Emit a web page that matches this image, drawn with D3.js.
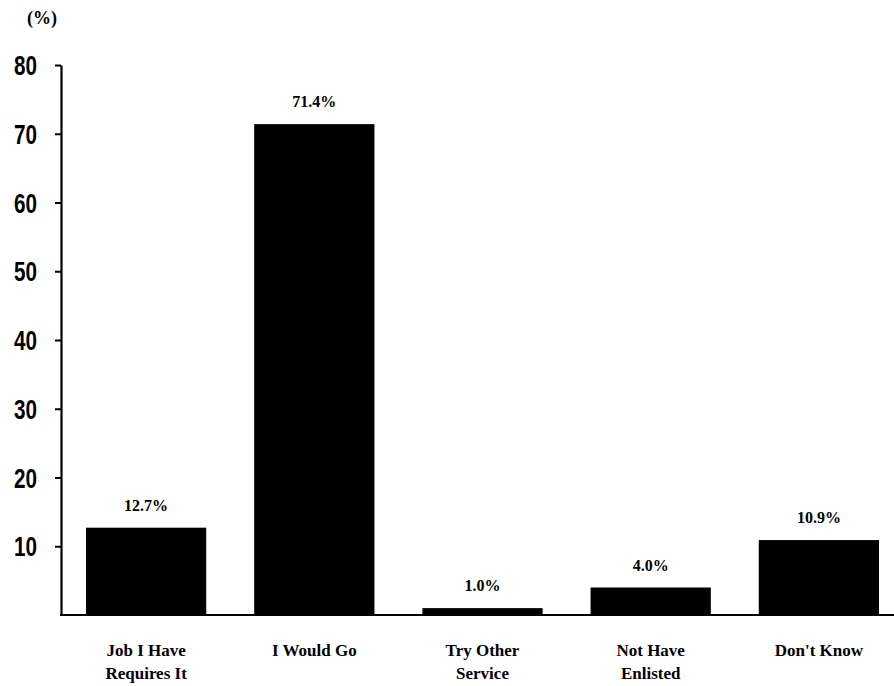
<!DOCTYPE html>
<html>
<head>
<meta charset="utf-8">
<script src="https://cdn.jsdelivr.net/npm/d3@7"></script>
<style>
  html, body { margin: 0; padding: 0; background: #fff; }
  svg { display: block; }
</style>
</head>
<body>
<script>
// Survey responses (percent of respondents)
const categories = [
  ["Job I Have", "Requires It"],
  ["I Would Go"],
  ["Try Other", "Service"],
  ["Not Have", "Enlisted"],
  ["Don't Know"]
];
const values = [12.7, 71.4, 1.0, 4.0, 10.9];
const valueLabels = ["12.7%", "71.4%", "1.0%", "4.0%", "10.9%"];
const yTicks = [10, 20, 30, 40, 50, 60, 70, 80];
const yUnit = "(%)";

const W = 894, H = 686;
const svg = d3.select("body").append("svg")
  .attr("width", W).attr("height", H);

const axisX = 61, baseY = 615, topY = 65;

const y = d3.scaleLinear().domain([0, 80]).range([baseY, topY]);
const x = d3.scaleBand()
  .domain(d3.range(values.length))
  .range([axisX, 904])
  .paddingInner(0.285)
  .paddingOuter(0.1486);

const serif = "'Liberation Serif', 'Times New Roman', serif";
const sans = "'Liberation Sans', Arial, sans-serif";

// Bars
svg.append("g").selectAll("rect")
  .data(values)
  .join("rect")
  .attr("x", (d, i) => x(i))
  .attr("y", d => y(d))
  .attr("width", x.bandwidth())
  .attr("height", d => baseY - y(d))
  .attr("fill", "#000");

// Value labels above bars
svg.append("g").selectAll("text")
  .data(values)
  .join("text")
  .attr("x", (d, i) => x(i) + x.bandwidth() / 2)
  .attr("y", d => y(d) - 17)
  .attr("text-anchor", "middle")
  .attr("font-family", serif)
  .attr("font-weight", "bold")
  .attr("font-size", 16)
  .attr("fill", "#000")
  .text((d, i) => valueLabels[i]);

// Y axis
const yAxis = svg.append("g")
  .attr("transform", `translate(${axisX},0)`)
  .call(d3.axisLeft(y).tickValues(yTicks).tickSize(6).tickSizeOuter(0).tickPadding(18));
yAxis.select(".domain").attr("stroke", "#000").attr("stroke-width", 2.2);
yAxis.selectAll(".tick line").attr("stroke", "#000").attr("stroke-width", 2);
yAxis.selectAll(".tick text")
  .attr("font-family", sans)
  .attr("font-weight", "bold")
  .attr("font-size", 27)
  .attr("fill", "#000")
  .attr("dy", "0.36em")
  .attr("textLength", 23)
  .attr("lengthAdjust", "spacingAndGlyphs");

// Baseline
svg.append("line")
  .attr("x1", axisX - 1).attr("x2", W)
  .attr("y1", y(0)).attr("y2", y(0))
  .attr("stroke", "#000").attr("stroke-width", 2.2);

// Unit label
svg.append("text")
  .attr("x", 42).attr("y", 24)
  .attr("text-anchor", "middle")
  .attr("font-family", serif)
  .attr("font-weight", "bold")
  .attr("font-size", 18)
  .attr("fill", "#000")
  .text(yUnit);

// Category labels
const cat = svg.append("g").selectAll("text")
  .data(categories)
  .join("text")
  .attr("x", (d, i) => x(i) + x.bandwidth() / 2)
  .attr("y", 656)
  .attr("text-anchor", "middle")
  .attr("font-family", serif)
  .attr("font-weight", "bold")
  .attr("font-size", 17)
  .attr("fill", "#000");
cat.selectAll("tspan")
  .data(d => d)
  .join("tspan")
  .attr("x", function () { return d3.select(this.parentNode).attr("x"); })
  .attr("dy", (d, i) => i === 0 ? 0 : 23)
  .text(d => d);
</script>
</body>
</html>
